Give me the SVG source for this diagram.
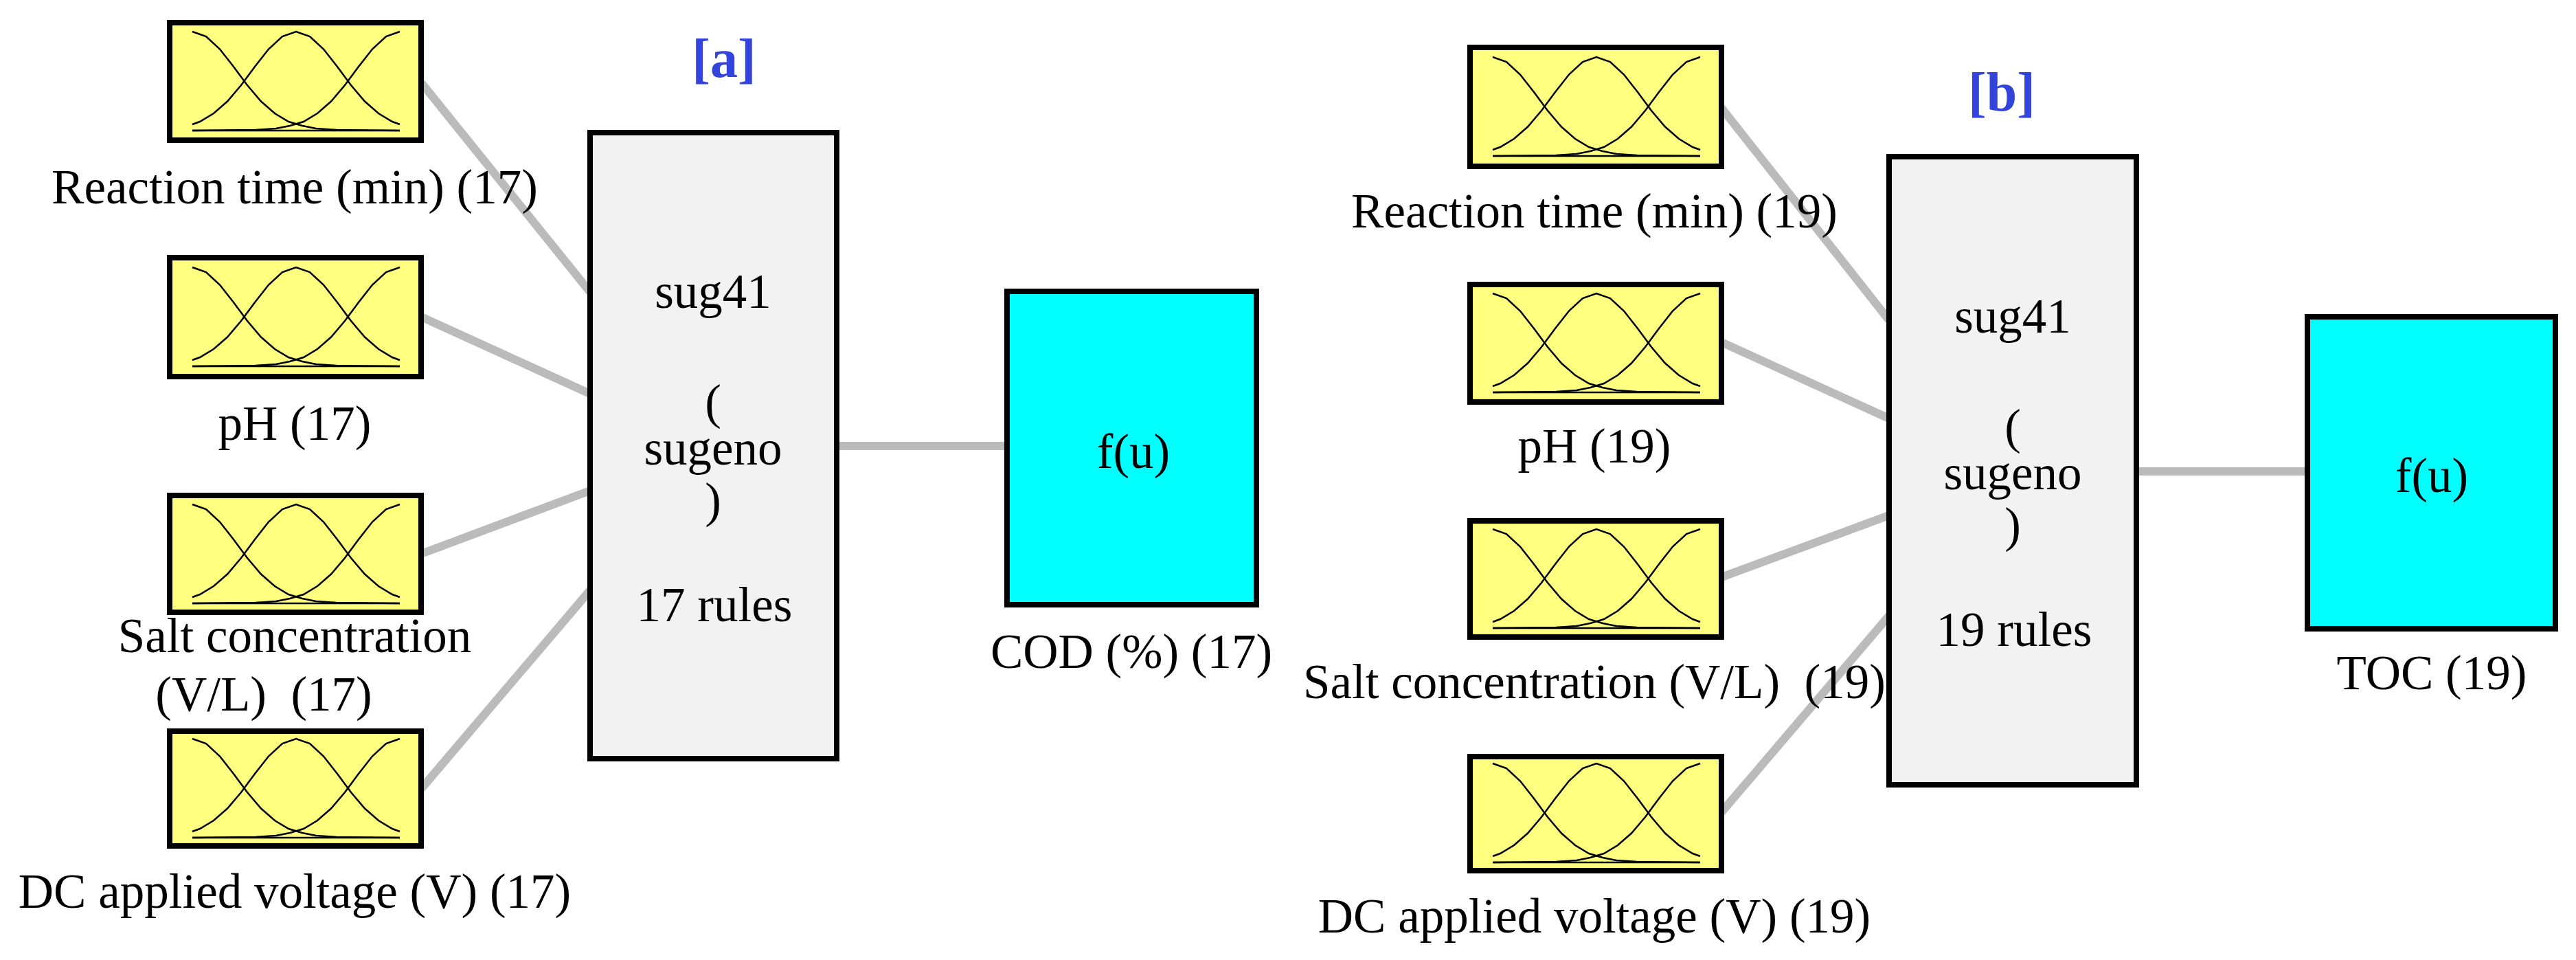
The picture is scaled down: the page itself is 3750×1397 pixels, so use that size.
<svg xmlns="http://www.w3.org/2000/svg" xmlns:xlink="http://www.w3.org/1999/xlink" width="3750" height="1397" viewBox="0 0 3750 1397">
<style>
.in{fill:#ffff80;stroke:#000;stroke-width:8}
.rule{fill:#f2f2f2;stroke:#000;stroke-width:8}
.out{fill:#00ffff;stroke:#000;stroke-width:8}
.mf{fill:none;stroke:#000;stroke-width:2.5}
.t{font-family:"Liberation Serif","Times New Roman",serif;font-size:71px;fill:#000;text-anchor:middle}
.lab{font-family:"Liberation Serif","Times New Roman",serif;font-size:80px;font-weight:bold;fill:#3344dd;text-anchor:middle}
.c{stroke:#bbbbbb;stroke-width:12;fill:none}
</style>
<defs>
<g id="mfs">
<polyline class="mf" points="33,148 44,144 64,132 84,114.5 104,91 124,64 144,38.5 164,20 184,13 204,20 224,38.5 244,64 264,91 284,114.5 304,132 324,144 335,148"/>
<polyline class="mf" points="33,13 53,20 73,38.5 93,64 113,91 133,114.5 153,132 173,144 193,150 213,154 243,156 335,157"/>
<polyline class="mf" points="335,13 315,20 295,38.5 275,64 255,91 235,114.5 215,132 195,144 175,150 155,154 125,156 33,157"/>
<line class="mf" x1="33" y1="157" x2="335" y2="157"/>
</g>
</defs>
<g id="connectors">
<line class="c" x1="613" y1="120" x2="859" y2="425"/>
<line class="c" x1="613" y1="461" x2="859" y2="573"/>
<line class="c" x1="613" y1="806" x2="859" y2="714"/>
<line class="c" x1="613" y1="1148" x2="859" y2="859"/>
<line class="c" x1="1218" y1="649" x2="1466" y2="649"/>
<line class="c" x1="2506" y1="157" x2="2750" y2="466"/>
<line class="c" x1="2506" y1="498" x2="2750" y2="609"/>
<line class="c" x1="2506" y1="840" x2="2750" y2="750"/>
<line class="c" x1="2506" y1="1182" x2="2750" y2="896"/>
<line class="c" x1="3110" y1="686" x2="3359" y2="686"/>
</g>
<text class="lab" x="1054" y="112">[a]</text>
<text class="lab" x="2914" y="161">[b]</text>
<g id="a-in1"><rect class="in" x="247" y="33" width="366" height="171"/><use xlink:href="#mfs" transform="translate(247,33)"/><text class="t" x="429" y="296">Reaction time (min) (17)</text></g>
<g id="a-in2"><rect class="in" x="247" y="375" width="366" height="173"/><use xlink:href="#mfs" transform="translate(247,376)"/><text class="t" x="429" y="640">pH (17)</text></g>
<g id="a-in3"><rect class="in" x="247" y="721" width="366" height="170"/><use xlink:href="#mfs" transform="translate(247,721)"/><text class="t" x="429" y="949">Salt concentration</text><text class="t" x="384" y="1034" xml:space="preserve">(V/L)  (17)</text></g>
<g id="a-in4"><rect class="in" x="247" y="1064" width="366" height="167"/><use xlink:href="#mfs" transform="translate(247,1062)"/><text class="t" x="429" y="1321">DC applied voltage (V) (17)</text></g>
<g id="a-rules"><rect class="rule" x="859" y="193" width="359" height="911"/><text class="t" x="1038" y="448">sug41</text><text class="t" x="1038" y="609">(</text><text class="t" x="1038" y="676">sugeno</text><text class="t" x="1038" y="752">)</text><text class="t" x="1040" y="904">17 rules</text></g>
<g id="a-out"><rect class="out" x="1466" y="424" width="363" height="456"/><text class="t" x="1650" y="681">f(u)</text><text class="t" x="1647" y="972">COD (%) (17)</text></g>
<g id="b-in1"><rect class="in" x="2140" y="69" width="366" height="173"/><use xlink:href="#mfs" transform="translate(2140,70)"/><text class="t" x="2321" y="331">Reaction time (min) (19)</text></g>
<g id="b-in2"><rect class="in" x="2140" y="414" width="366" height="171"/><use xlink:href="#mfs" transform="translate(2140,414)"/><text class="t" x="2321" y="673">pH (19)</text></g>
<g id="b-in3"><rect class="in" x="2140" y="758" width="366" height="169"/><use xlink:href="#mfs" transform="translate(2140,757)"/><text class="t" x="2321" y="1016" xml:space="preserve">Salt concentration (V/L)  (19)</text></g>
<g id="b-in4"><rect class="in" x="2140" y="1101" width="366" height="166"/><use xlink:href="#mfs" transform="translate(2140,1098)"/><text class="t" x="2321" y="1357">DC applied voltage (V) (19)</text></g>
<g id="b-rules"><rect class="rule" x="2750" y="228" width="360" height="914"/><text class="t" x="2930" y="484">sug41</text><text class="t" x="2930" y="645">(</text><text class="t" x="2930" y="712">sugeno</text><text class="t" x="2930" y="788">)</text><text class="t" x="2932" y="940">19 rules</text></g>
<g id="b-out"><rect class="out" x="3359" y="461" width="361" height="454"/><text class="t" x="3540" y="716">f(u)</text><text class="t" x="3540" y="1003">TOC (19)</text></g>
</svg>
